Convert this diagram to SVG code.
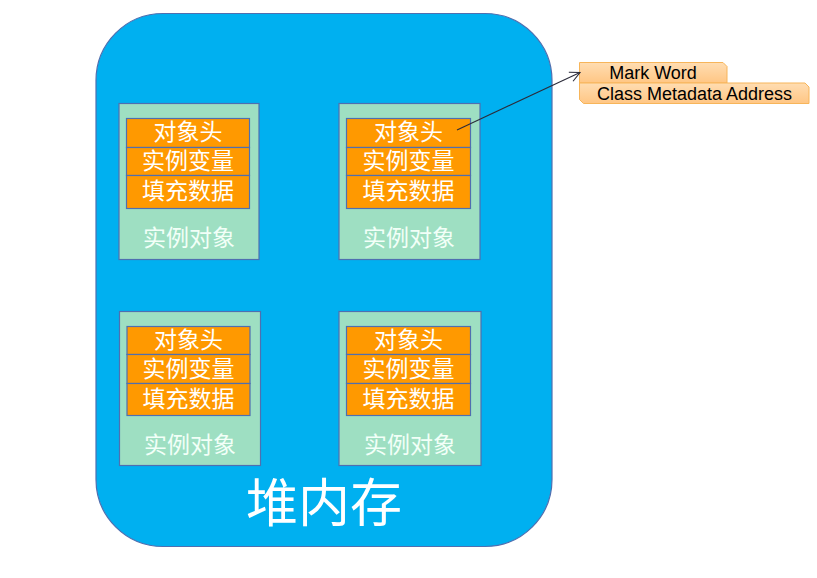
<svg xmlns="http://www.w3.org/2000/svg" width="817" height="578" viewBox="0 0 817 578">
<style>
.heap{fill:#00B0F0;stroke:#4F6FB0;stroke-width:1.2}
.obj{fill:#9EDFC2;stroke:#4F6FB0;stroke-width:1.2}
.cell{fill:#FF9900;stroke:#4F6FB0;stroke-width:1.2}
.ct{font-family:"Noto Sans CJK SC","Noto Sans CJK JP",sans-serif;font-size:23px;fill:#FFFFFF;text-anchor:middle}
.lbl{font-family:"Noto Sans CJK SC","Noto Sans CJK JP",sans-serif;font-size:23px;fill:#F2FFF8;text-anchor:middle}
.big{font-family:"Noto Sans CJK SC","Noto Sans CJK JP",sans-serif;font-size:52px;fill:#FFFFFF;text-anchor:middle}
.call{fill:url(#cg);stroke:#F7B55A;stroke-width:1}
.cat{font-family:"Liberation Sans",Arial,sans-serif;font-size:18px;fill:#000000;text-anchor:middle}
.conn{fill:none;stroke:#2B2B3A;stroke-width:1.1}
</style>
<defs>
<linearGradient id="cg" x1="0" y1="0" x2="0" y2="1">
<stop offset="0" stop-color="#FFDDB2"/>
<stop offset="1" stop-color="#FFC684"/>
</linearGradient>
<marker id="arr" viewBox="0 0 12 12" refX="11" refY="6" markerWidth="12" markerHeight="12" markerUnits="userSpaceOnUse" orient="auto">
<path d="M1,1 L11,6 L1,11" fill="none" stroke="#2B2B3A" stroke-width="1.1"/>
</marker>
</defs>
<g id="heap">
<rect class="heap" x="96" y="13.5" width="456" height="533" rx="67" ry="67"/>
<text class="big" x="324" y="522">堆内存</text>
</g>
<g id="obj1">
<rect class="obj" x="119" y="103.5" width="140" height="156"/>
<rect class="cell" x="126.5" y="118.5" width="123" height="29"/>
<rect class="cell" x="126.5" y="147.5" width="123" height="28"/>
<rect class="cell" x="126.5" y="175.5" width="123" height="33"/>
<text class="ct" x="188" y="140">对象头</text>
<text class="ct" x="188" y="169">实例变量</text>
<text class="ct" x="188" y="199">填充数据</text>
<text class="lbl" x="189" y="246">实例对象</text>
</g>
<g id="obj2">
<rect class="obj" x="339" y="103.5" width="141" height="156"/>
<rect class="cell" x="346.5" y="118.5" width="124" height="29"/>
<rect class="cell" x="346.5" y="147.5" width="124" height="28"/>
<rect class="cell" x="346.5" y="175.5" width="124" height="33"/>
<text class="ct" x="408.5" y="140">对象头</text>
<text class="ct" x="408.5" y="169">实例变量</text>
<text class="ct" x="408.5" y="199">填充数据</text>
<text class="lbl" x="409" y="246">实例对象</text>
</g>
<g id="obj3">
<rect class="obj" x="119.5" y="311.5" width="141" height="154"/>
<rect class="cell" x="127" y="326.5" width="123" height="28"/>
<rect class="cell" x="127" y="354.5" width="123" height="29"/>
<rect class="cell" x="127" y="383.5" width="123" height="32"/>
<text class="ct" x="188.5" y="348">对象头</text>
<text class="ct" x="188.5" y="377">实例变量</text>
<text class="ct" x="188.5" y="407">填充数据</text>
<text class="lbl" x="190" y="453">实例对象</text>
</g>
<g id="obj4">
<rect class="obj" x="339" y="311.5" width="142" height="154"/>
<rect class="cell" x="346.5" y="326.5" width="124" height="28"/>
<rect class="cell" x="346.5" y="354.5" width="124" height="29"/>
<rect class="cell" x="346.5" y="383.5" width="124" height="32"/>
<text class="ct" x="408.5" y="348">对象头</text>
<text class="ct" x="408.5" y="377">实例变量</text>
<text class="ct" x="408.5" y="407">填充数据</text>
<text class="lbl" x="410" y="453">实例对象</text>
</g>
<g id="markword">
<path class="call" d="M579.5,62.5 H723 L727,66.5 V83 H579.5 Z"/>
<text class="cat" x="653" y="79">Mark Word</text>
</g>
<g id="classmeta">
<path class="call" d="M579.5,83 H805 L809,87 V103.5 H583.5 L579.5,99.5 Z"/>
<text class="cat" x="694.5" y="99.5">Class Metadata Address</text>
</g>
<g id="connectors">
<line class="conn" x1="457" y1="130" x2="580" y2="72.5" marker-end="url(#arr)"/>
</g>
</svg>
